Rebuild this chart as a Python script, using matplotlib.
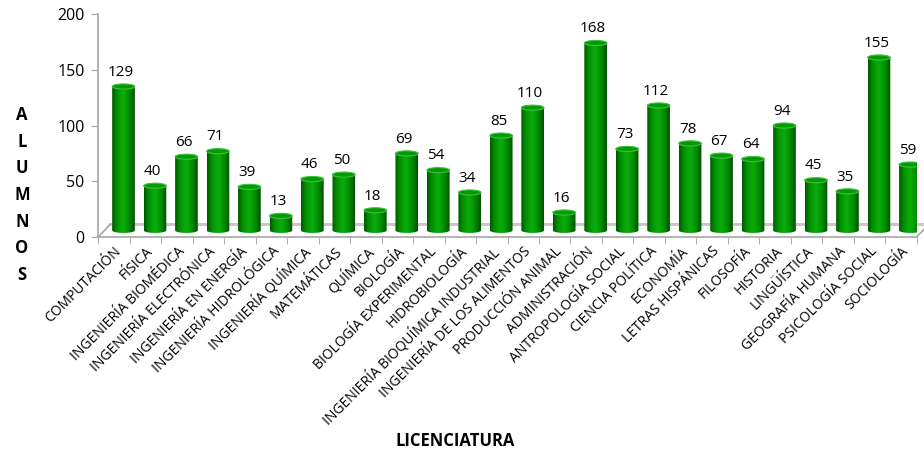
import numpy as np
import matplotlib
matplotlib.use("Agg")
import matplotlib.pyplot as plt
from matplotlib.path import Path
from matplotlib.patches import PathPatch, Ellipse
from matplotlib.colors import LinearSegmentedColormap

plt.rcParams['font.family'] = ['Open Sans', 'DejaVu Sans']

licenciaturas = [
    "COMPUTACIÓN", "FÍSICA", "INGENIERÍA BIOMÉDICA", "INGENIERÍA ELECTRÓNICA",
    "INGENIERÍA EN ENERGÍA", "INGENIERÍA HIDROLÓGICA", "INGENIERÍA QUÍMICA",
    "MATEMÁTICAS", "QUÍMICA", "BIOLOGÍA", "BIOLOGÍA EXPERIMENTAL",
    "HIDROBIOLOGÍA", "INGENIERÍA BIOQUÍMICA INDUSTRIAL",
    "INGENIERÍA DE LOS ALIMENTOS", "PRODUCCIÓN ANIMAL", "ADMINISTRACIÓN",
    "ANTROPOLOGÍA SOCIAL", "CIENCIA POLÍTICA", "ECONOMÍA", "LETRAS HISPÁNICAS",
    "FILOSOFÍA", "HISTORIA", "LINGÜÍSTICA", "GEOGRAFÍA HUMANA",
    "PSICOLOGÍA SOCIAL", "SOCIOLOGÍA",
]
alumnos = [129, 40, 66, 71, 39, 13, 46, 50, 18, 69, 54, 34, 85, 110, 16,
           168, 73, 112, 78, 67, 64, 94, 45, 35, 155, 59]
y_ticks = [0, 50, 100, 150, 200]

fig = plt.figure(figsize=(9.24, 4.55), dpi=100)
ax = fig.add_axes([0.1064, 0.479, 0.8857, 0.4902])
n = len(alumnos)
ax.set_xlim(0, n)
ax.set_ylim(0, 200)

# desplazamiento de profundidad (pseudo 3D)
dx_bar, dy_bar = 0.30, 6.0
dx_back, dy_back = 0.38, 11.5
ancho = 0.72
alto_elipse = 4.6

gris = "#a6a6a6"
# piso
ax.plot([0, n], [0, 0], color=gris, lw=1.2, clip_on=False, zorder=1)
ax.plot([dx_back, n + dx_back], [dy_back, dy_back], color="#c8c8c8", lw=2.2,
        clip_on=False, zorder=1)
ax.plot([0, dx_back], [0, dy_back], color=gris, lw=1.2, clip_on=False, zorder=1)
ax.plot([n, n + dx_back * 0.6], [0, dy_back * 0.6], color=gris, lw=1.2,
        clip_on=False, zorder=1)
ax.plot([0, 0], [0, 200], color=gris, lw=1.2, clip_on=False, zorder=1)

cmap = LinearSegmentedColormap.from_list(
    "cil", ["#005800", "#008800", "#06a006", "#0cab0c", "#009a00", "#007a00", "#005000"])
grad = np.linspace(0, 1, 64).reshape(1, -1)

t = np.linspace(np.pi, 2 * np.pi, 40)
for i, v in enumerate(alumnos):
    cx = i + 0.5 + dx_bar
    base = dy_bar
    top = v + dy_bar
    xs = cx + ancho / 2 * np.cos(t)
    ys = base + alto_elipse / 2 * np.sin(t)
    verts = list(zip(xs, ys)) + [(cx + ancho / 2, top), (cx - ancho / 2, top), (xs[0], ys[0])]
    clip = PathPatch(Path(verts), transform=ax.transData, facecolor="none",
                     edgecolor="none")
    ax.add_patch(clip)
    im = ax.imshow(grad, cmap=cmap, aspect="auto", zorder=3,
                   extent=[cx - ancho / 2, cx + ancho / 2, base - alto_elipse, top],
                   interpolation="bilinear")
    im.set_clip_path(clip)
    ax.add_patch(Ellipse((cx, top), ancho, alto_elipse, facecolor="#029c02",
                         edgecolor="#3fbf3f", lw=0.8, zorder=4))
    ax.annotate(str(v), (cx - 0.08, top + alto_elipse / 2), xytext=(0, 3),
                textcoords="offset points", ha="center", va="bottom",
                fontsize=11, color="black", zorder=5, annotation_clip=False)

ax.set_xlim(0, n)
ax.set_ylim(0, 200)

for s in ax.spines.values():
    s.set_visible(False)

ax.set_yticks(y_ticks)
ax.set_yticklabels([str(y) for y in y_ticks], fontsize=11.5)
ax.tick_params(axis="y", length=5, color=gris, pad=5)

ax.set_xticks(np.arange(n + 1), minor=True)
ax.set_xticks(np.arange(n) + 0.5)
ax.set_xticklabels(licenciaturas, rotation=45, ha="right", va="top",
                   rotation_mode="anchor", fontsize=10)
ax.tick_params(axis="x", which="major", length=0, pad=5)
ax.tick_params(axis="x", which="minor", length=5, color=gris)

for k, letra in enumerate("ALUMNOS"):
    fig.text(22 / 924, 1 - (115 + 26.7 * k) / 455, letra, ha="center",
             va="center", fontsize=12, fontweight="bold")

fig.text(455 / 924, 1 - 441 / 455, "LICENCIATURA", ha="center", va="center",
         fontsize=12, fontweight="bold")

fig.savefig("out.png", dpi=100)
